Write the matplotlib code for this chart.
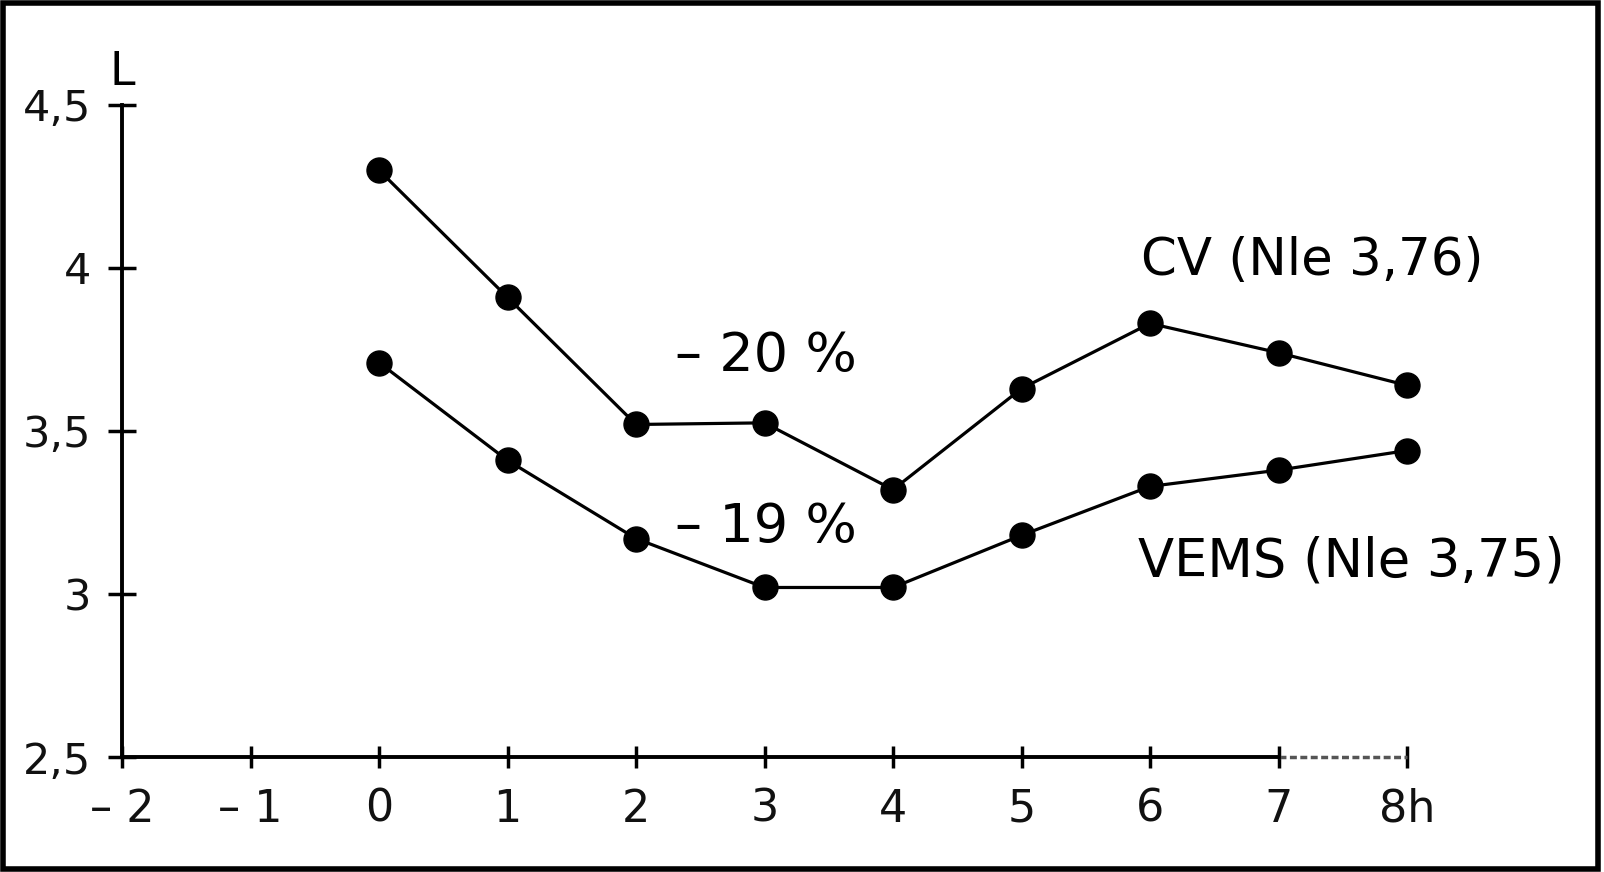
import numpy as np
import matplotlib.pyplot as plt
from matplotlib.patches import Rectangle

# Data
hours = [0, 1, 2, 3, 4, 5, 6, 7, 8]
cv = [4.30, 3.91, 3.52, 3.525, 3.32, 3.63, 3.83, 3.74, 3.64]
vems = [3.71, 3.41, 3.17, 3.02, 3.02, 3.18, 3.33, 3.38, 3.44]

x_ticks = [-2, -1, 0, 1, 2, 3, 4, 5, 6, 7, 8]
x_labels = ['– 2', '– 1', '0', '1', '2', '3', '4', '5', '6', '7', '8h']
y_ticks = [2.5, 3, 3.5, 4, 4.5]
y_labels = ['2,5', '3', '3,5', '4', '4,5']

plt.rcParams['font.family'] = ['DejaVu Sans']

fig = plt.figure(figsize=(16.04, 8.72), dpi=100)
ax = fig.add_axes([122/1604, 1 - 757/872, (1407-122)/1604, (757-105)/872])

# the two curves
ax.plot(hours, cv, color='black', lw=2.3, marker='o', ms=18, clip_on=False)
ax.plot(hours, vems, color='black', lw=2.3, marker='o', ms=18, clip_on=False)

ax.set_xlim(-2, 8)
ax.set_ylim(2.5, 4.5)

for s in ['top', 'right']:
    ax.spines[s].set_visible(False)
ax.spines['left'].set_linewidth(2.8)
ax.spines['bottom'].set_linewidth(2.8)
ax.spines['bottom'].set_bounds(-2, 7)
# dotted last segment of the time axis
ax.plot([7, 8], [2.5, 2.5], color='#555555', lw=2.5, ls=(0, (2, 1)), clip_on=False)

ax.set_xticks(x_ticks)
ax.set_xticklabels(x_labels, fontsize=32, color='#111111')
ax.set_yticks(y_ticks)
ax.set_yticklabels(y_labels, fontsize=31, color='#111111')
ax.tick_params(axis='x', direction='inout', length=16, width=2.5, pad=14)
ax.tick_params(axis='y', direction='inout', length=20, width=2.5, pad=12)

# annotations
ax.text(-2, 4.6, 'L', fontsize=33, ha='center', va='center')
ax.text(2.30, 3.73, '– 20 %', fontsize=39, ha='left', va='center')
ax.text(2.30, 3.205, '– 19 %', fontsize=39, ha='left', va='center')
ax.text(5.93, 4.02, 'CV (Nle 3,76)', fontsize=37, ha='left', va='center')
ax.text(5.91, 3.10, 'VEMS (Nle 3,75)', fontsize=38, ha='left', va='center')

# frame around the whole picture
fig.patches.append(Rectangle((0.002, 0.003), 0.994, 0.994, transform=fig.transFigure,
                             fill=False, edgecolor='black', lw=4))

fig.savefig('out.png', dpi=100)
